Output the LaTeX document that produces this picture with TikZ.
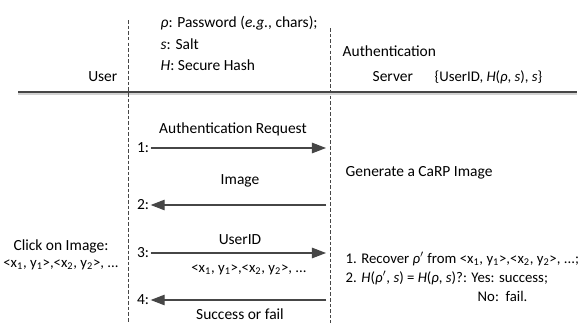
\documentclass[tikz,border=0pt]{standalone}
\usepackage{fontspec}
\setmainfont{Carlito}
\usetikzlibrary{arrows.meta,positioning}
\definecolor{inkgray}{RGB}{70,70,70}
\newcommand{\rhoi}{\textit{ρ}}

\begin{document}
\begin{tikzpicture}[x=0.025cm,y=-0.025cm,font=\fontsize{11}{13}\selectfont,
  msg/.style={draw=inkgray,line width=0.8pt,-{Triangle[length=10pt,width=7.5pt]},fill=inkgray},
  life/.style={draw=inkgray,dash pattern=on 2.5pt off 1.5pt,line width=0.5pt},
  lbl/.style={inner sep=1pt},
  small/.style={font=\fontsize{10.5}{13}\selectfont}]
\useasboundingbox (0,0) rectangle (586,323);
% header
\node[lbl,anchor=east] (user) at (119,77) {User};
\node[lbl,anchor=west] (pw) at (159,23) {\rhoi: Password (\textit{e.g.}, chars);};
\node[lbl,anchor=west] (salt) at (159,44) {\textit{s}: Salt};
\node[lbl,anchor=west] (hash) at (159,65) {\textit{H}: Secure Hash};
\node[lbl,anchor=west] (auth) at (341,51) {Authentication};
\node[lbl,anchor=west] (server) at (371,77) {Server};
\node[lbl,anchor=west,small] (store) at (433,77) {\{UserID, \textit{H}(\rhoi, \textit{s}), \textit{s}\}};
% lifelines and rule
\coordinate (utop) at (128,20);
\coordinate (ubot) at (128,323);
\coordinate (stop) at (330,28);
\coordinate (sbot) at (330,323);
\coordinate (rl) at (18,92);
\coordinate (rr) at (577,92);
\draw[gray!35,line width=1.5pt] ([yshift=-1.5pt]rl) -- ([yshift=-1.5pt]rr);
\draw[inkgray,line width=1.3pt] (rl) -- (rr);
\draw[life] (utop) -- (ubot);
\draw[life] (stop) -- (sbot);
% messages
\node[lbl] (n1) at (143,148) {1:};
\node[lbl] (n2) at (143,205) {2:};
\node[lbl] (n3) at (143,253) {3:};
\node[lbl] (n4) at (143,300) {4:};
\coordinate (s1) at (326,148);
\coordinate (s2) at (326,205);
\coordinate (s3) at (326,253);
\coordinate (s4) at (326,300);
\draw[msg] (n1) -- (s1);
\draw[msg] (s2) -- (n2);
\draw[msg] (n3) -- (s3);
\draw[msg] (s4) -- (n4);
\node[lbl] (req) at (233,129) {Authentication Request};
\node[lbl] (img) at (240,181) {Image};
\node[lbl] (uid) at (240,240) {UserID};
\node[lbl,small] (pts) at (249,270) {<x\textsubscript{1}, y\textsubscript{1}>,<x\textsubscript{2}, y\textsubscript{2}>, ...};
\node[lbl] (res) at (240,314) {Success or fail};
% user side
\node[lbl] (click) at (61,246) {Click on Image:};
\node[lbl,small] (clickpts) at (61,265) {<x\textsubscript{1}, y\textsubscript{1}>,<x\textsubscript{2}, y\textsubscript{2}>, ...};
% server side
\node[lbl,anchor=west] (gen) at (344,173) {Generate a CaRP Image};
\node[lbl,anchor=west,small] (step1) at (344,259) {1. Recover \rhoi$'$ from <x\textsubscript{1}, y\textsubscript{1}>,<x\textsubscript{2}, y\textsubscript{2}>, ...;};
\node[lbl,anchor=west,small] (step2) at (344,278) {2. \textit{H}(\rhoi$'$, \textit{s}) = \textit{H}(\rhoi, \textit{s})?: Yes: success;};
\node[lbl,anchor=west,small] (step3) at (476,296) {No:\ \ fail.};
\end{tikzpicture}
\end{document}
